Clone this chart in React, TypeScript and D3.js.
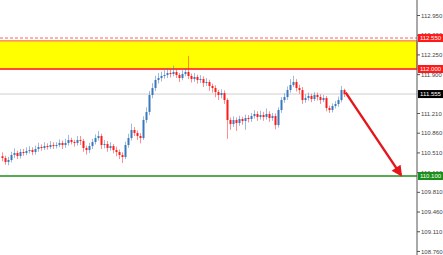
import React from "react";
import * as d3 from "d3";

const W = 443;
const H = 255;

// Close prices (open = previous close)
const closes = [
  110.419, 110.349, 110.384, 110.473, 110.508, 110.455, 110.526, 110.508, 110.544, 110.561,
  110.526, 110.579, 110.615, 110.597, 110.632, 110.615, 110.650, 110.632, 110.650, 110.686,
  110.650, 110.686, 110.739, 110.703, 110.686, 110.739, 110.721, 110.597, 110.561, 110.632,
  110.703, 110.774, 110.810, 110.650, 110.668, 110.597, 110.632, 110.561, 110.526, 110.473,
  110.437, 110.650, 110.774, 110.917, 110.864, 110.810, 110.774, 111.094, 111.237, 111.538,
  111.662, 111.805, 111.840, 111.876, 111.893, 111.929, 111.911, 111.947, 111.893, 111.840,
  111.911, 111.947, 111.876, 111.822, 111.858, 111.805, 111.822, 111.751, 111.769, 111.698,
  111.662, 111.591, 111.538, 111.573, 111.449, 111.094, 111.023, 111.094, 111.041, 111.112,
  111.076, 111.130, 111.112, 111.165, 111.201, 111.148, 111.183, 111.148, 111.201, 111.130,
  111.165, 111.005, 111.272, 111.449, 111.502, 111.627, 111.716, 111.769, 111.662, 111.627,
  111.449, 111.485, 111.520, 111.467, 111.538, 111.502, 111.449, 111.485, 111.307, 111.272,
  111.343, 111.378, 111.449, 111.627, 111.555,
];
const firstOpen = 110.45;
const highs = [
  110.52, 110.46, 110.44, 110.53, 110.59, 110.55, 110.58, 110.58, 110.61, 110.63,
  110.61, 110.64, 110.69, 110.66, 110.70, 110.68, 110.72, 110.70, 110.70, 110.75,
  110.73, 110.76, 110.83, 110.78, 110.74, 110.81, 110.81, 110.76, 110.64, 110.69,
  110.76, 110.84, 110.90, 110.85, 110.74, 110.72, 110.70, 110.67, 110.62, 110.57,
  110.52, 110.71, 110.85, 111.03, 110.97, 110.91, 110.86, 111.16, 111.32, 111.61,
  111.75, 111.88, 111.93, 111.95, 111.98, 112.01, 111.99, 112.06, 112.00, 111.93,
  111.98, 112.02, 112.23, 111.92, 111.93, 111.90, 111.89, 111.87, 111.84, 111.81,
  111.74, 111.71, 111.63, 111.64, 111.62, 111.48, 111.14, 111.16, 111.14, 111.17,
  111.15, 111.19, 111.18, 111.22, 111.27, 111.25, 111.26, 111.24, 111.30, 111.25,
  111.22, 111.21, 111.32, 111.50, 111.57, 111.69, 111.82, 111.88, 111.82, 111.72,
  111.68, 111.55, 111.58, 111.56, 111.59, 111.58, 111.55, 111.54, 111.52, 111.35,
  111.39, 111.43, 111.51, 111.70, 111.65,
];
const lows = [
  110.36, 110.30, 110.29, 110.34, 110.42, 110.40, 110.41, 110.46, 110.47, 110.50,
  110.47, 110.48, 110.53, 110.55, 110.56, 110.57, 110.58, 110.58, 110.59, 110.61,
  110.58, 110.60, 110.64, 110.66, 110.62, 110.64, 110.65, 110.53, 110.48, 110.51,
  110.58, 110.66, 110.73, 110.58, 110.59, 110.53, 110.55, 110.50, 110.45, 110.40,
  110.33, 110.40, 110.60, 110.73, 110.81, 110.74, 110.68, 110.74, 111.04, 111.18,
  111.48, 111.61, 111.74, 111.78, 111.83, 111.84, 111.85, 111.87, 111.84, 111.77,
  111.80, 111.87, 111.82, 111.76, 111.77, 111.74, 111.75, 111.68, 111.70, 111.61,
  111.58, 111.50, 111.45, 111.48, 111.38, 110.76, 110.92, 110.97, 110.90, 110.99,
  111.01, 110.92, 111.05, 111.06, 111.12, 111.08, 111.10, 111.08, 111.10, 111.06,
  111.08, 110.93, 110.96, 111.22, 111.40, 111.45, 111.58, 111.68, 111.60, 111.56,
  111.38, 111.40, 111.44, 111.41, 111.43, 111.44, 111.38, 111.41, 111.25, 111.22,
  111.23, 111.30, 111.33, 111.41, 111.50,
];

const axisTicks = [
  112.95, 112.6, 112.25, 111.9, 111.21, 110.86, 110.51, 110.16, 109.81, 109.46, 109.11, 108.76,
];
const zoneTop = 112.5;
const zoneBottom = 112.0;
const dashedLevel = 112.55;
const currentPrice = 111.555;
const supportLevel = 110.1;
const arrowFrom = { i: 114.4, p: 111.58 };
const arrowTo = { i: 132.8, p: 110.12 };

export default function App() {
  const plotRight = 417;
  const y = d3.scaleLinear().domain([112.0, 110.1]).range([69, 176]);
  const x = d3.scaleLinear().domain([0, 114]).range([2.5, 344.5]);
  const opens = closes.map((c, i) => (i === 0 ? firstOpen : closes[i - 1]));

  const labelBox = (v: number, fill: string, key: string) => (
    <g key={key}>
      <rect x={418} y={y(v) - 4} width={25} height={8} fill={fill} />
      <text
        x={430.5}
        y={y(v)}
        dy="0.35em"
        textAnchor="middle"
        fontSize={6}
        fill="#fff"
        fontFamily="Liberation Sans, Arial, sans-serif"
      >
        {v.toFixed(3)}
      </text>
    </g>
  );

  return (
    <div style={{ position: "fixed", left: 0, top: 0, width: W, height: H, background: "#fff" }}>
      <svg width={W} height={H} style={{ display: "block" }}>
        <defs>
          <marker
            id="ah"
            viewBox="0 0 10 10"
            refX="8"
            refY="5"
            markerWidth="5"
            markerHeight="4.5"
            orient="auto"
            markerUnits="strokeWidth"
          >
            <path d="M0,0 L10,5 L0,10 Z" fill="#e4161b" />
          </marker>
        </defs>
        <rect width={W} height={H} fill="#fff" />
        <rect
          x={-2}
          y={y(zoneTop)}
          width={plotRight + 2}
          height={y(zoneBottom) - y(zoneTop)}
          fill="#ffff00"
          stroke="#ff6e50"
          strokeWidth={1.2}
        />
        <line x1={0} x2={plotRight} y1={y(zoneBottom)} y2={y(zoneBottom)} stroke="#ff4a3a" strokeWidth={2} />
        <line
          x1={0}
          x2={plotRight}
          y1={y(dashedLevel)}
          y2={y(dashedLevel)}
          stroke="#ff6060"
          strokeWidth={1}
          strokeDasharray="3,2"
        />
        <line x1={0} x2={plotRight} y1={y(currentPrice)} y2={y(currentPrice)} stroke="#cfcfcf" strokeWidth={1} />
        <line x1={0} x2={plotRight} y1={y(supportLevel)} y2={y(supportLevel)} stroke="#1f8f1f" strokeWidth={1.5} />
        {closes.map((c, i) => {
          const o = opens[i];
          const up = c >= o;
          const cx = x(i);
          const top = y(Math.max(o, c));
          const bot = y(Math.min(o, c));
          return (
            <g key={i}>
              <line
                x1={cx}
                x2={cx}
                y1={y(highs[i])}
                y2={y(lows[i])}
                stroke={up ? "#3a78bd" : "#ff2020"}
                strokeOpacity={0.5}
                strokeWidth={1}
              />
              <rect
                x={cx - 1}
                y={top}
                width={2}
                height={Math.max(1, bot - top)}
                fill={up ? "#3a78bd" : "#ff1a1a"}
              />
            </g>
          );
        })}
        <line
          x1={x(arrowFrom.i)}
          y1={y(arrowFrom.p)}
          x2={x(arrowTo.i)}
          y2={y(arrowTo.p)}
          stroke="#e4161b"
          strokeWidth={2.4}
          markerEnd="url(#ah)"
        />
        <line x1={plotRight} x2={plotRight} y1={0} y2={H} stroke="#555" strokeWidth={1} />
        {axisTicks.map((t) => (
          <g key={t}>
            <line x1={plotRight} x2={plotRight + 3} y1={y(t)} y2={y(t)} stroke="#555" />
            <text
              x={421}
              y={y(t)}
              dy="0.35em"
              fontSize={6}
              fill="#444"
              fontFamily="Liberation Sans, Arial, sans-serif"
            >
              {t.toFixed(3)}
            </text>
          </g>
        ))}
        {labelBox(dashedLevel, "#ff1a1a", "l1")}
        {labelBox(zoneBottom, "#ff1a1a", "l2")}
        {labelBox(currentPrice, "#000", "l3")}
        {labelBox(supportLevel, "#1a8f1a", "l4")}
      </svg>
    </div>
  );
}
